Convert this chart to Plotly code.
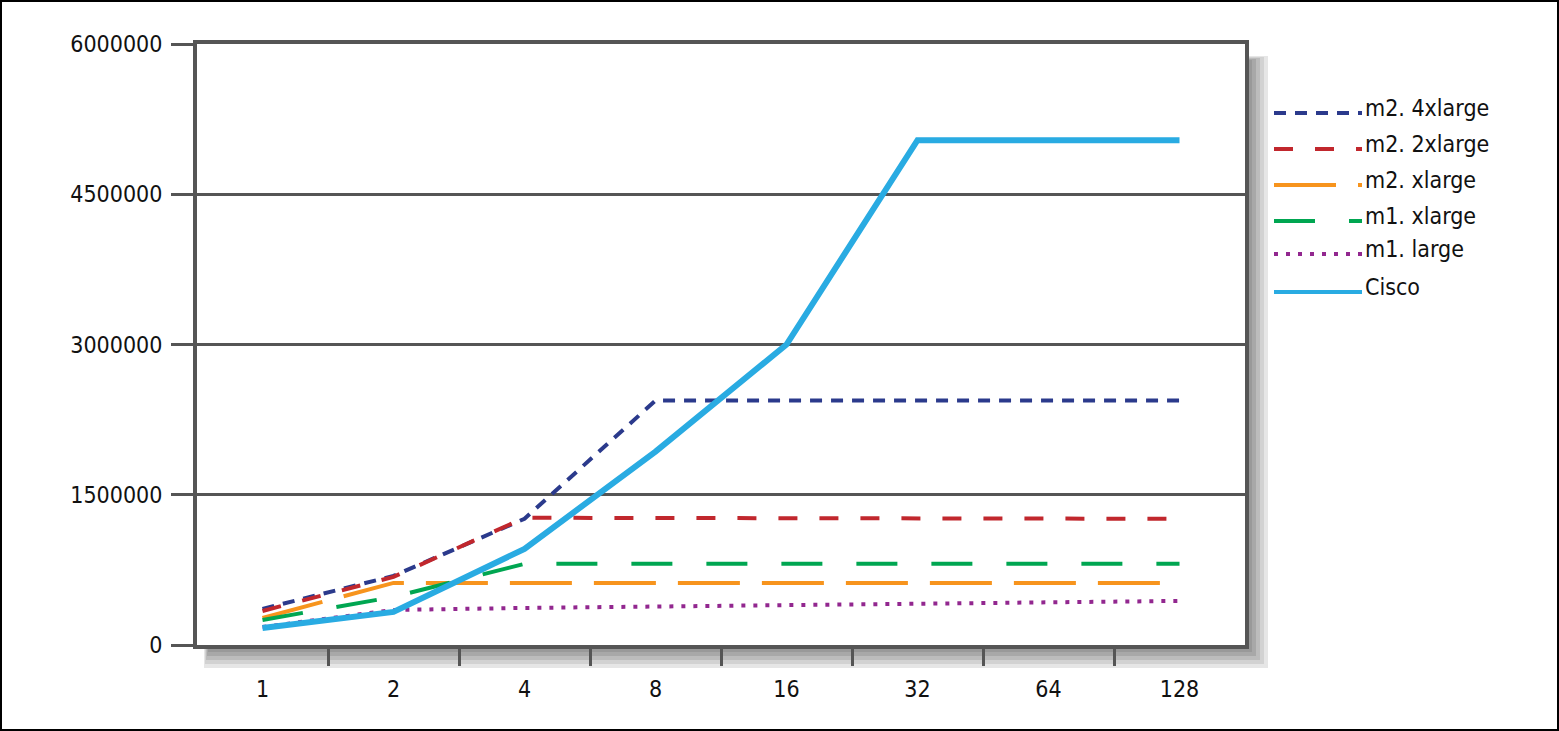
import plotly.graph_objects as go

# ---- data ----
x_labels = ["1", "2", "4", "8", "16", "32", "64", "128"]

m2_4xlarge = [360000, 690000, 1260000, 2440000, 2440000, 2440000, 2440000, 2440000]
m2_2xlarge = [340000, 680000, 1270000, 1270000, 1270000, 1270000, 1265000, 1260000]
m2_xlarge = [270000, 620000, 620000, 620000, 620000, 620000, 620000, 620000]
m1_xlarge = [250000, 480000, 810000, 810000, 810000, 810000, 810000, 810000]
m1_large = [180000, 350000, 370000, 385000, 395000, 415000, 430000, 440000]
cisco = [170000, 330000, 960000, 1930000, 3000000, 5040000, 5040000, 5040000]

series_names = ["m2. 4xlarge", "m2. 2xlarge", "m2. xlarge", "m1. xlarge", "m1. large", "Cisco"]
series_values = [m2_4xlarge, m2_2xlarge, m2_xlarge, m1_xlarge, m1_large, cisco]

# ---- styling ----
FONT = "DejaVu Sans Condensed, Liberation Sans Narrow, Arial Narrow, sans-serif"
AXIS = "#555555"
W, H = 1559, 731
L, R, T, B = 197, 1245, 44, 645  # plot area in pixels

styles = [
    dict(color="#2b3a8c", width=4, dash="12px,9px"),
    dict(color="#c1272d", width=4, dash="19px,22px"),
    dict(color="#f7941d", width=4, dash="62px,22px"),
    dict(color="#00a651", width=4, dash="41px,34px"),
    dict(color="#92278f", width=4, dash="4px,8px"),
    dict(color="#29abe2", width=6, dash="solid"),
]


def px_x(p):
    return (p - L) / (R - L)


def px_y(p):
    return (B - p) / (B - T)


xs = list(range(len(x_labels)))

fig = go.Figure()
for name, vals, st in zip(series_names, series_values, styles):
    fig.add_trace(go.Scatter(x=xs, y=vals, mode="lines", name=name,
                             line=st, showlegend=False))

shapes = []

# drop shadow (bottom and right strips, light outside -> dark inside)
shadow = ["#e6e6e6", "#d2d2d2", "#bcbcbc", "#a8a8a8", "#999999"]
for i, c in enumerate(shadow):
    k = len(shadow) - i
    shapes.append(dict(type="rect", xref="paper", yref="paper", layer="below",
                       x0=px_x(209 - k), x1=px_x(1248 + 4 * k),
                       y0=px_y(647), y1=px_y(648 + 4 * k),
                       fillcolor=c, line=dict(width=0)))
    shapes.append(dict(type="rect", xref="paper", yref="paper", layer="below",
                       x0=px_x(1247), x1=px_x(1248 + 4 * k),
                       y0=px_y(61 - k), y1=px_y(648 + 4 * k),
                       fillcolor=c, line=dict(width=0)))

# outer border of the figure
shapes.append(dict(type="rect", xref="paper", yref="paper",
                   x0=px_x(1), x1=px_x(W - 1), y0=px_y(H - 1), y1=px_y(1),
                   line=dict(color="black", width=2)))

# hand-drawn legend
annotations = []
legend_y = [113, 149, 185, 221, 254, 292]
for name, st, ly in zip(series_names, styles, legend_y):
    shapes.append(dict(type="line", xref="paper", yref="paper",
                       x0=px_x(1274), x1=px_x(1362), y0=px_y(ly), y1=px_y(ly),
                       line=dict(color=st["color"], width=4, dash=st["dash"])))
    annotations.append(dict(xref="paper", yref="paper", x=px_x(1363), y=px_y(ly - 5),
                            text=name, showarrow=False, xanchor="left", yanchor="middle",
                            font=dict(family=FONT, size=23, color="#111111")))

fig.update_layout(
    width=W, height=H,
    margin=dict(l=L, r=W - R, t=T, b=H - B),
    paper_bgcolor="white", plot_bgcolor="white",
    font=dict(family=FONT, size=23, color="#111111"),
    shapes=shapes, annotations=annotations,
    xaxis=dict(
        range=[-0.5, 7.5], tickvals=xs, ticktext=x_labels,
        ticks="", ticklabelstandoff=20, showgrid=False, zeroline=False,
        showline=True, mirror=True, linecolor=AXIS, linewidth=4,
        minor=dict(tickmode="array", tickvals=[i + 0.5 for i in xs[:-1]],
                   ticks="outside", ticklen=17, tickwidth=3, tickcolor=AXIS,
                   showgrid=False),
    ),
    yaxis=dict(
        range=[0, 6000000], tickvals=[0, 1500000, 3000000, 4500000, 6000000],
        ticktext=["0", "1500000", "3000000", "4500000", "6000000"],
        ticks="outside", ticklen=22, tickwidth=3, tickcolor=AXIS,
        ticklabelstandoff=4,
        showgrid=True, gridcolor=AXIS, gridwidth=3, zeroline=False,
        showline=True, mirror=True, linecolor=AXIS, linewidth=4,
    ),
)

# drop the default page margin so the figure sits at the window origin
fig.write_html("out.html", config={"displayModeBar": False},
               post_script="document.body.style.margin='0px';")
